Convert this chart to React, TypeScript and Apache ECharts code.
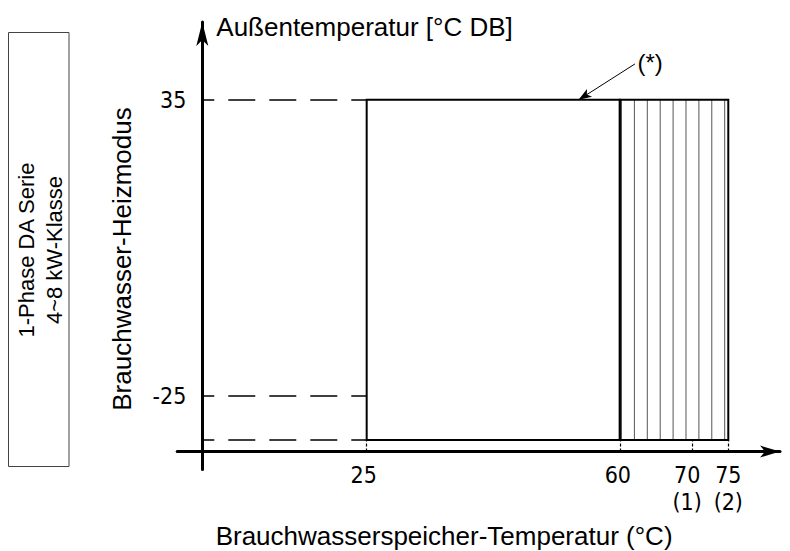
import { useEffect, useRef } from 'react';
import * as echarts from 'echarts';

// ---- data ----
const xTickValues = [25, 60, 70, 75];
const xTickLabels = ['25', '60', '70\n(1)', '75\n(2)'];
const yTickValues = [35, -25];
const yTickLabels = ['35', '-25'];
// water temperature bounds: heat pump zone 25..60, booster zone 60..75
const zoneStart = [25, 60];
const zoneEnd = [60, 75];
const zoneHatched = [0, 1];
// outdoor temperature bounds of the operating range
const outdoorLow = -34;
const outdoorHigh = 35;
const dashedLevels = [35, -25, -34];
const annotationFrom = [54.3, 35];
const annotationTo = [62.1, 42.3];
const xRange = [-1.2, 82.15];
const yRange = [-40, 50.8];
const axisCross = [2.27, -36.36];

const xAxisName = 'Brauchwasserspeicher-Temperatur (°C)';
const yAxisName = 'Außentemperatur [°C DB]';
const modeTitle = 'Brauchwasser-Heizmodus';
const boxText = '1-Phase DA Serie\n4~8 kW-Klasse';
const noteText = '(*)';

const tickFont = '"Liberation Sans Narrow", "DejaVu Sans Condensed", "Liberation Sans", Arial, sans-serif';
const sansFont = '"Liberation Sans", Arial, Helvetica, sans-serif';

export default function App() {
  const ref = useRef<HTMLDivElement>(null);

  useEffect(() => {
    if (!ref.current) return;
    const chart = echarts.init(ref.current, null, { renderer: 'svg' });

    const zoneData = zoneStart.map((s, i) => [s, zoneEnd[i], outdoorLow, outdoorHigh, zoneHatched[i]]);

    // small horizontal nudges of the x tick labels (pixels, negative = left)
    const labelNudge = [-3, -2, -5, 0];
    const tickRich: any = {};
    labelNudge.forEach((s, i) => {
      tickRich['t' + i] = {
        fontFamily: tickFont,
        fontSize: 23,
        lineHeight: 27,
        color: '#000',
        padding: s < 0 ? [0, -2 * s, 0, 0] : [0, 0, 0, 2 * s],
      };
    });

    const option: any = {
      animation: false,
      backgroundColor: '#ffffff',
      grid: {
        left: 177.2,
        top: 22,
        width: 602.8,
        height: 447.5,
        containLabel: false,
        outerBoundsMode: 'none',
      },
      xAxis: {
        type: 'value',
        min: xRange[0],
        max: xRange[1],
        position: 'bottom',
        offset: 0,
        name: xAxisName,
        nameLocation: 'middle',
        nameGap: 71,
        nameMoveOverlap: false,
        nameTextStyle: {
          fontFamily: sansFont,
          fontSize: 26,
          color: '#000',
          padding: [0, 69, 0, 0],
        },
        axisLine: {
          show: true,
          onZero: false,
          symbol: ['none', 'arrow'],
          symbolSize: [9, 20],
          lineStyle: { color: '#000', width: 3 },
        },
        axisTick: {
          show: true,
          inside: true,
          length: 12,
          interval: 0,
          customValues: xTickValues,
          lineStyle: { color: '#000', width: 1.2, type: [3, 2] },
        },
        axisLabel: {
          show: true,
          interval: 0,
          hideOverlap: false,
          customValues: xTickValues,
          formatter: (v: number) => {
            const i = xTickValues.indexOf(v);
            if (i < 0) return '';
            return xTickLabels[i]
              .split('\n')
              .map((line) => '{t' + i + '|' + line + '}')
              .join('\n');
          },
          rich: tickRich,
          fontFamily: tickFont,
          fontSize: 23,
          lineHeight: 27,
          color: '#000',
          margin: 10,
        },
        splitLine: { show: false },
      },
      yAxis: {
        type: 'value',
        min: yRange[0],
        max: yRange[1],
        position: 'left',
        offset: 0,
        name: yAxisName,
        nameLocation: 'end',
        nameGap: -5,
        nameTextStyle: {
          fontFamily: sansFont,
          fontSize: 26,
          color: '#000',
          align: 'left',
          verticalAlign: 'middle',
          padding: [0, 0, 0, 14],
        },
        axisLine: {
          show: true,
          onZero: false,
          symbol: ['none', 'arrow'],
          symbolSize: [9, 24],
          lineStyle: { color: '#000', width: 3 },
        },
        axisTick: { show: false },
        axisLabel: {
          show: true,
          interval: 0,
          hideOverlap: false,
          customValues: yTickValues,
          formatter: (v: number) => {
            const i = yTickValues.indexOf(v);
            return i >= 0 ? yTickLabels[i] : '';
          },
          fontFamily: tickFont,
          fontSize: 23,
          color: '#000',
          margin: 16,
        },
        splitLine: { show: false },
      },
      graphic: [
        {
          type: 'rect',
          shape: { x: 8.5, y: 32.5, width: 60.5, height: 434 },
          style: { fill: 'none', stroke: '#444', lineWidth: 1 },
          silent: true,
        },
        {
          type: 'text',
          x: 40,
          y: 250,
          rotation: Math.PI / 2,
          style: {
            text: boxText,
            fontFamily: sansFont,
            fontSize: 22,
            lineHeight: 28,
            fill: '#000',
            align: 'center',
            verticalAlign: 'middle',
          },
          silent: true,
        },
        {
          type: 'text',
          x: 121.7,
          y: 259,
          rotation: Math.PI / 2,
          style: {
            text: modeTitle,
            fontFamily: sansFont,
            fontSize: 26,
            fill: '#000',
            align: 'center',
            verticalAlign: 'middle',
          },
          silent: true,
        },
      ],
      series: [
        {
          type: 'custom',
          name: 'Betriebsbereich',
          silent: true,
          clip: false,
          encode: { x: [0, 1], y: [2, 3] },
          data: zoneData,
          renderItem: (params: any, api: any) => {
            const x0 = api.value(0);
            const x1 = api.value(1);
            const y0 = api.value(2);
            const y1 = api.value(3);
            const hatched = api.value(4);
            const p0 = api.coord([x0, y1]);
            const p1 = api.coord([x1, y0]);
            const w = p1[0] - p0[0];
            const h = p1[1] - p0[1];
            const children: any[] = [];
            if (hatched) {
              const n = 9;
              for (let i = 0; i < n; i++) {
                const x = p0[0] + 1.7 + (i * (w - 5.3)) / (n - 1);
                children.push({
                  type: 'line',
                  shape: { x1: x, y1: p0[1], x2: x, y2: p1[1] },
                  style: { stroke: '#555', lineWidth: 1 },
                });
              }
            }
            children.push({
              type: 'rect',
              shape: { x: p0[0], y: p0[1], width: w, height: h },
              style: { fill: 'none', stroke: '#000', lineWidth: 2 },
            });
            return { type: 'group', children };
          },
        },
        {
          type: 'line',
          name: 'Grenzen',
          data: [],
          silent: true,
          markLine: {
            silent: true,
            symbol: ['none', 'none'],
            label: { show: false },
            lineStyle: { color: '#000', width: 1.5, type: [27, 14], dashOffset: 15 },
            data: dashedLevels.map((v) => [
              { coord: [axisCross[0], v] },
              { coord: [xTickValues[0], v] },
            ]),
          },
        },
        {
          type: 'line',
          name: 'Hinweis',
          data: [],
          silent: true,
          markLine: {
            silent: true,
            symbol: ['arrow', 'none'],
            symbolSize: [7, 13],
            label: {
              show: true,
              position: 'end',
              formatter: noteText,
              fontFamily: sansFont,
              fontSize: 24,
              color: '#000',
              distance: 3,
            },
            lineStyle: { color: '#000', width: 1, type: 'solid' },
            data: [
              [
                { coord: annotationFrom, symbol: 'arrow', symbolSize: [7, 13] },
                { coord: annotationTo, symbol: 'none' },
              ],
            ],
          },
        },
      ],
    };

    chart.setOption(option);

    const gx0 = chart.convertToPixel({ xAxisIndex: 0 } as any, xRange[0]) as number;
    const cx = chart.convertToPixel({ xAxisIndex: 0 } as any, axisCross[0]) as number;
    const gy0 = chart.convertToPixel({ yAxisIndex: 0 } as any, yRange[0]) as number;
    const cy = chart.convertToPixel({ yAxisIndex: 0 } as any, axisCross[1]) as number;
    chart.setOption({
      xAxis: { offset: -(gy0 - cy) },
      yAxis: { offset: -(cx - gx0) },
    });

    return () => {
      chart.dispose();
    };
  }, []);

  return (
    <div
      ref={ref}
      style={{ position: 'absolute', left: 0, top: 0, width: 790, height: 551, background: '#fff' }}
    />
  );
}
